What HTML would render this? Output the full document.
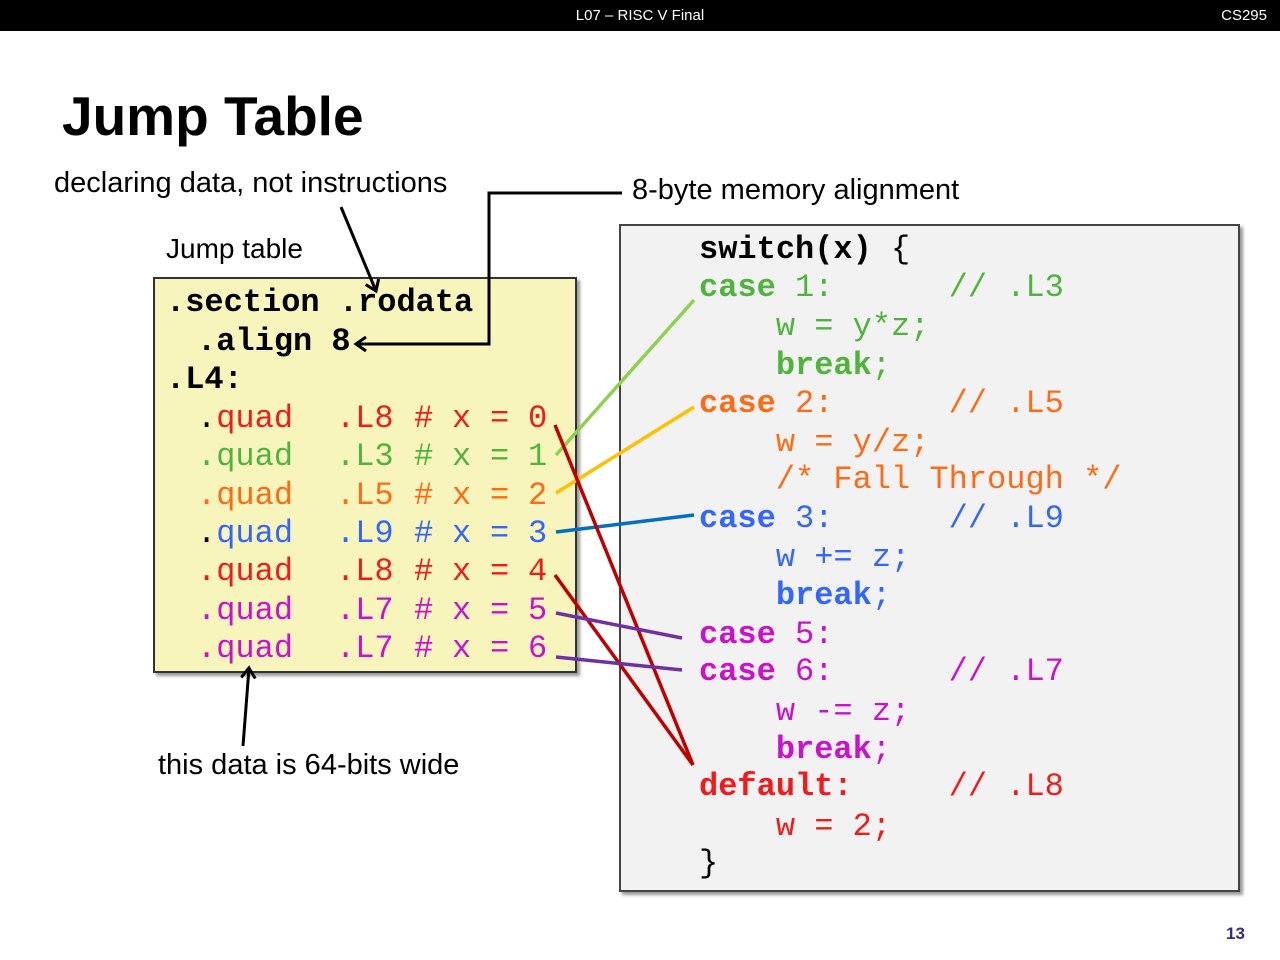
<!DOCTYPE html>
<html><head><meta charset="utf-8"><style>
body{margin:0;width:1280px;height:960px;background:#fff;position:relative;overflow:hidden;font-family:"Liberation Sans",sans-serif}
.bar{position:absolute;left:0;top:0;width:1280px;height:31px;background:#000;color:#fff;font-size:15px}
.m{position:absolute;font-family:"Liberation Mono",monospace;font-size:32px;line-height:38px;white-space:pre;margin:0}
.b{font-weight:bold}
.lbl{position:absolute;font-size:29px;color:#000;white-space:nowrap}
.R{color:#f21b1b}.G{color:#4fb43c}.O{color:#ff6b14}.B{color:#3366ff}.P{color:#cc11cc}.K{color:#000}
.r span{position:absolute;top:0}
</style></head><body>
<div class="bar"><span style="position:absolute;left:0;width:1280px;text-align:center;top:7px">L07 – RISC V Final</span><span style="position:absolute;right:13px;top:7px">CS295</span></div>
<div style="position:absolute;left:62px;top:84px;font-size:55px;font-weight:bold">Jump Table</div>
<div class="lbl" style="left:54px;top:167px">declaring data, not instructions</div>
<div class="lbl" style="left:632px;top:174px">8-byte memory alignment</div>
<div class="lbl" style="left:166px;top:233px;font-size:28px">Jump table</div>
<div class="lbl" style="left:158px;top:749px">this data is 64-bits wide</div>
<div style="position:absolute;left:1226px;top:924px;font-size:17px;font-weight:bold;color:#3b2a7a">13</div>

<div style="position:absolute;left:153px;top:277px;width:420px;height:392px;background:#f7f4bc;border:2px solid #333;box-shadow:3px 3px 3px #999"></div>
<div style="position:absolute;left:619px;top:224px;width:617px;height:664px;background:#f2f2f2;border:2px solid #444;box-shadow:3px 3px 3px #999"></div>

<div class="m b" style="left:166px;top:284px">.section .rodata</div>
<div class="m b" style="left:197px;top:323px">.align 8</div>
<div class="m b" style="left:166px;top:361px">.L4:</div>

<div class="m r R" style="left:0;top:400px"><span style="left:197px"><span class="K" style="position:static">.</span>quad</span><span style="left:336px">.L8</span><span style="left:414px">#</span><span style="left:452px">x</span><span style="left:490px">=</span><span style="left:528px">0</span></div>
<div class="m r G" style="left:0;top:438px"><span style="left:197px">.quad</span><span style="left:336px">.L3</span><span style="left:414px">#</span><span style="left:452px">x</span><span style="left:490px">=</span><span style="left:528px">1</span></div>
<div class="m r O" style="left:0;top:477px"><span style="left:197px">.quad</span><span style="left:336px">.L5</span><span style="left:414px">#</span><span style="left:452px">x</span><span style="left:490px">=</span><span style="left:528px">2</span></div>
<div class="m r B" style="left:0;top:515px"><span style="left:197px"><span class="K" style="position:static">.</span>quad</span><span style="left:336px">.L9</span><span style="left:414px">#</span><span style="left:452px">x</span><span style="left:490px">=</span><span style="left:528px">3</span></div>
<div class="m r R" style="left:0;top:553px"><span style="left:197px">.quad</span><span style="left:336px">.L8</span><span style="left:414px">#</span><span style="left:452px">x</span><span style="left:490px">=</span><span style="left:528px">4</span></div>
<div class="m r P" style="left:0;top:592px"><span style="left:197px">.quad</span><span style="left:336px">.L7</span><span style="left:414px">#</span><span style="left:452px">x</span><span style="left:490px">=</span><span style="left:528px">5</span></div>
<div class="m r P" style="left:0;top:630px"><span style="left:197px">.quad</span><span style="left:336px">.L7</span><span style="left:414px">#</span><span style="left:452px">x</span><span style="left:490px">=</span><span style="left:528px">6</span></div>

<div class="m" style="left:699px;top:231px"><span class="b">switch(x)</span> {</div>
<div class="m G" style="left:699px;top:269px"><span class="b">case</span> 1:      // .L3</div>
<div class="m G" style="left:699px;top:308px">    w = y*z;</div>
<div class="m G" style="left:699px;top:347px">    <span class="b">break</span>;</div>
<div class="m O" style="left:699px;top:385px"><span class="b">case</span> 2:      // .L5</div>
<div class="m O" style="left:699px;top:424px">    w = y/z;</div>
<div class="m O" style="left:699px;top:461px">    /* Fall Through */</div>
<div class="m B" style="left:699px;top:500px"><span class="b">case</span> 3:      // .L9</div>
<div class="m B" style="left:699px;top:539px">    w += z;</div>
<div class="m B" style="left:699px;top:577px">    <span class="b">break</span>;</div>
<div class="m P" style="left:699px;top:616px"><span class="b">case</span> 5:</div>
<div class="m P" style="left:699px;top:653px"><span class="b">case</span> 6:      // .L7</div>
<div class="m P" style="left:699px;top:693px">    w -= z;</div>
<div class="m P" style="left:699px;top:731px">    <span class="b">break</span>;</div>
<div class="m R" style="left:699px;top:768px"><span class="b">default:</span>     // .L8</div>
<div class="m R" style="left:699px;top:808px">    w = 2;</div>
<div class="m" style="left:699px;top:845px">}</div>

<svg width="1280" height="960" style="position:absolute;left:0;top:0">
<defs><marker id="a2" markerWidth="16" markerHeight="16" refX="12" refY="8" orient="auto" markerUnits="userSpaceOnUse"><path d="M2,1 L12,8 L2,15" fill="none" stroke="#000" stroke-width="3"/></marker></defs>
<g stroke-width="3.5" fill="none">
<line x1="556" y1="455" x2="694" y2="300" stroke="#8fd14f"/>
<line x1="556" y1="493" x2="694" y2="407" stroke="#ffc000"/>
<line x1="556" y1="532" x2="694" y2="515" stroke="#0070c0"/>
<line x1="555" y1="425" x2="693" y2="765" stroke="#c00000"/>
<line x1="555" y1="575" x2="693" y2="765" stroke="#c00000"/>
<line x1="556" y1="613" x2="682" y2="638" stroke="#7030a0"/>
<line x1="556" y1="657" x2="682" y2="670" stroke="#7030a0"/>
</g>
<g stroke="#000" stroke-width="3" fill="none">
<line x1="341" y1="207" x2="376" y2="291" marker-end="url(#a2)"/>
<polyline points="622,193 489,193 489,344 356,344" marker-end="url(#a2)"/>
<line x1="243" y1="746" x2="249" y2="668" marker-end="url(#a2)"/>
</g>
</svg>
</body></html>
